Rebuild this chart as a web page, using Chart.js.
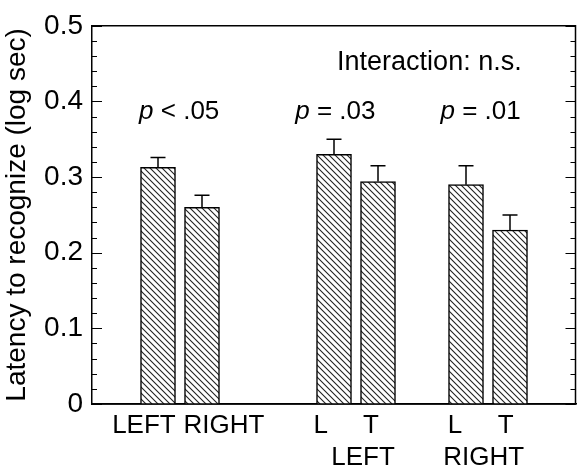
<!DOCTYPE html>
<html><head><meta charset="utf-8">
<script src="https://cdn.jsdelivr.net/npm/chart.js@4/dist/chart.umd.min.js"></script>
<style>html,body{margin:0;padding:0;background:#fff}#wrap{width:577px;height:468px;position:relative}</style>
</head><body><div id="wrap"><canvas id="c"></canvas></div>
<script>
// ---- data ----
const categories = ['', 'LEFT', 'RIGHT', '', '', 'L', 'T', '', 'L', 'T', ''];
const latency   = [null, 0.313, 0.260, null, null, 0.330, 0.294, null, 0.290, 0.230, null];
const errorUp   = [null, 0.013, 0.016, null, null, 0.020, 0.021, null, 0.025, 0.020, null];
const yTickValues = [0, 0.1, 0.2, 0.3, 0.4, 0.5];
const yTickLabels = ['0', '0.1', '0.2', '0.3', '0.4', '0.5'];
const groupLabels = ['LEFT', 'RIGHT'];
const pLabels = ['< .05', '= .03', '= .01'];
const interactionLabel = 'Interaction: n.s.';
const yTitle = 'Latency to recognize (log sec)';

const FONT = '"Liberation Sans", Arial, Helvetica, sans-serif';

function hatch() {
  const s = 6;
  const p = document.createElement('canvas');
  p.width = s; p.height = s;
  const g = p.getContext('2d');
  g.fillStyle = '#fff'; g.fillRect(0, 0, s, s);
  g.strokeStyle = '#222'; g.lineWidth = 1.1;
  g.beginPath();
  g.moveTo(-1, -1); g.lineTo(s + 1, s + 1);
  g.moveTo(-1, s - 1); g.lineTo(1, s + 1);
  g.moveTo(s - 1, -1); g.lineTo(s + 1, 1);
  g.stroke();
  return g.createPattern(p, 'repeat');
}

const decor = {
  id: 'decor',
  afterDatasetsDraw(chart) {
    const ctx = chart.ctx, x = chart.scales.x, y = chart.scales.y, a = chart.chartArea;
    ctx.save();
    ctx.strokeStyle = '#000'; ctx.lineWidth = 1.5;
    // error bars (upper only)
    latency.forEach((v, i) => {
      if (v === null) return;
      const cx = x.getPixelForValue(i);
      const yTop = y.getPixelForValue(v), yErr = y.getPixelForValue(v + errorUp[i]);
      ctx.beginPath();
      ctx.moveTo(cx, yTop); ctx.lineTo(cx, yErr);
      ctx.moveTo(cx - 7.5, yErr); ctx.lineTo(cx + 7.5, yErr);
      ctx.stroke();
    });
    // frame
    ctx.beginPath();
    ctx.moveTo(a.left, a.top); ctx.lineTo(a.right - 0.5, a.top); ctx.lineTo(a.right - 0.5, a.bottom);
    ctx.lineTo(a.left, a.bottom);
    ctx.stroke();
    // inward ticks on left and right
    ctx.lineWidth = 1.2;
    for (let k = 0; k <= 25; k++) {
      const py = Math.round(y.getPixelForValue(k * 0.02)) + 0.5;
      const len = k % 5 === 0 ? 10 : 5;
      ctx.beginPath();
      ctx.moveTo(a.left, py); ctx.lineTo(a.left + len, py);
      ctx.moveTo(a.right - 0.5, py); ctx.lineTo(a.right - 0.5 - len, py);
      ctx.stroke();
    }
    // x labels
    ctx.fillStyle = '#000';
    ctx.textBaseline = 'alphabetic';
    ctx.font = '26px ' + FONT;
    ctx.textAlign = 'center';
    const pos = [[1, 0.68], [2, 2.5], [5, 4.7], [6, 5.84], [8, 7.75], [9, 8.9]];
    pos.forEach(([i, p]) => ctx.fillText(categories[i], x.getPixelForValue(p), 433));
    ctx.fillText(groupLabels[0], x.getPixelForValue(5.66), 465);
    ctx.fillText(groupLabels[1], x.getPixelForValue(8.4), 465);
    // interaction
    ctx.textAlign = 'left';
    ctx.font = '27px ' + FONT;
    ctx.fillText(interactionLabel, x.getPixelForValue(5.07), 70);
    // p values
    const pPos = [0.57, 4.12, 7.42];
    pLabels.forEach((t, j) => {
      const px = x.getPixelForValue(pPos[j]);
      ctx.font = 'italic 26px ' + FONT;
      ctx.fillText('p', px, 119);
      const w = ctx.measureText('p ').width;
      ctx.font = '26px ' + FONT;
      ctx.fillText(t, px + w, 119);
    });
    ctx.restore();
  }
};

new Chart(document.getElementById('c'), {
  type: 'bar',
  data: {
    labels: categories,
    datasets: [{
      data: latency,
      backgroundColor: hatch(),
      borderColor: '#000',
      borderWidth: 1.5,
      borderSkipped: 'bottom',
      barThickness: 35
    }]
  },
  options: {
    responsive: true,
    maintainAspectRatio: false,
    animation: false,
    devicePixelRatio: 1,
    layout: { padding: { top: 18, right: 1, left: 0, bottom: 0 } },
    plugins: { legend: { display: false }, tooltip: { enabled: false } },
    scales: {
      x: {
        grid: { display: false, drawTicks: false },
        border: { display: true, color: '#000', width: 1.5 },
        ticks: { display: false },
        afterFit(s) { s.height = 64; }
      },
      y: {
        min: 0, max: 0.5,
        grid: { display: false, drawTicks: false },
        border: { display: true, color: '#000', width: 1.5 },
        afterBuildTicks(s) { s.ticks = yTickValues.map(v => ({ value: v })); },
        ticks: {
          color: '#000',
          padding: 9,
          font: { family: FONT, size: 28 },
          callback: (v, i) => yTickLabels[i]
        },
        title: {
          display: true, text: yTitle, color: '#000',
          font: { family: FONT, size: 28 },
          padding: { top: 0, bottom: 0 }
        },
        afterFit(s) { s.width = 92; }
      }
    }
  },
  plugins: [decor]
});
</script></body></html>
